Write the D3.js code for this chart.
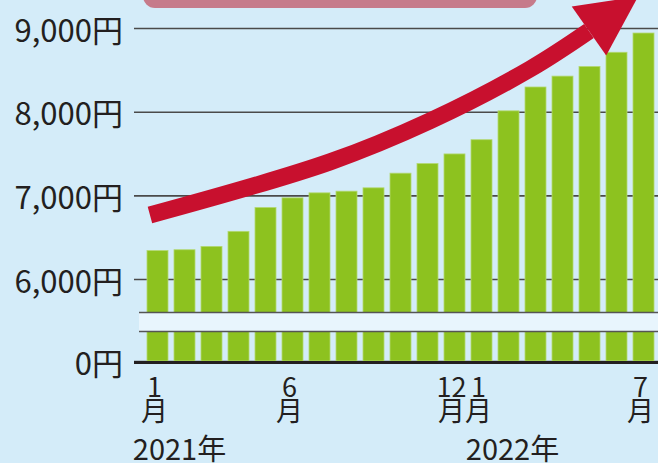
<!DOCTYPE html>
<html>
<head>
<meta charset="utf-8">
<script src="https://cdn.jsdelivr.net/npm/d3@7"></script>
<style>
  body { margin: 0; background: #d4ecf9; }
  svg { display: block; font-family: "Noto Sans CJK JP", "Noto Sans", sans-serif; }
</style>
</head>
<body>
<div id="chart"></div>
<script>
// 月別の金額（2021年1月〜2022年7月）
const months = ["2021-01","2021-02","2021-03","2021-04","2021-05","2021-06","2021-07","2021-08","2021-09","2021-10","2021-11","2021-12",
                "2022-01","2022-02","2022-03","2022-04","2022-05","2022-06","2022-07"];
const values = [6340, 6350, 6390, 6570, 6855, 6970, 7030, 7050, 7090, 7265, 7380, 7495, 7665, 8010, 8295, 8425, 8540, 8710, 8940];
const monthLabels = ["1","","","","","6","","","","","","12","1","","","","","","7"];
const yearLabels = ["2021年", "2022年"];
const yTicks = [0, 6000, 7000, 8000, 9000];
// 矢印の通り道 [月インデックス, 金額]
const arrowTrack = [[-0.28, 6765], [6.39, 7400], [10.09, 7890], [13.8, 8510], [15.98, 8964]];
const arrowTip = [17.8, 9376];

const W = 658, H = 463;
const breakVal = 5600;

const svg = d3.select("#chart")
  .append("svg")
    .attr("width", W)
    .attr("height", H);

svg.append("rect").attr("width", W).attr("height", H).attr("fill", "#d4ecf9");

const x = d3.scaleBand()
  .domain(months)
  .range([144, 657])
  .paddingInner(0.222)
  .paddingOuter(0.111);

// 省略あり（0〜5,600円を圧縮）
const y = d3.scaleLinear()
  .domain([0, breakVal, 9000])
  .range([361, 312.5, 28]);

const xc = i => x(months[0]) + x.bandwidth() / 2 + i * x.step();

// ピンクの見出し枠（上端）
svg.append("rect")
  .attr("x", 143).attr("y", -20)
  .attr("width", 394).attr("height", 28)
  .attr("rx", 12)
  .attr("fill", "#c67b8b");

// グリッド + 目盛
const yAxis = svg.append("g")
  .attr("transform", "translate(134,0)")
  .call(d3.axisLeft(y)
    .tickValues(yTicks)
    .tickSize(-(W - 134))
    .tickPadding(11)
    .tickFormat(d => d3.format(",")(d) + "円"));
yAxis.select(".domain").remove();
yAxis.selectAll(".tick line")
  .attr("stroke", "#4a4a4a")
  .attr("stroke-width", 1.6);
yAxis.selectAll(".tick text")
  .attr("fill", "#231f20")
  .attr("font-size", 31)
  .attr("font-family", "Noto Sans CJK JP")
  .attr("dy", "0.42em");

// 棒
svg.append("g").selectAll("rect")
  .data(values)
  .join("rect")
    .attr("x", (d, i) => x(months[i]))
    .attr("y", d => y(d))
    .attr("width", x.bandwidth())
    .attr("height", d => y(0) - y(d))
    .attr("fill", "#8dc21f")
    .attr("stroke", "#b3d872")
    .attr("stroke-width", 0.8);

// 省略帯
svg.append("rect")
  .attr("x", 139).attr("y", 312.5)
  .attr("width", W - 139).attr("height", 19)
  .attr("fill", "#e8f5fd");
[312.5, 331.5].forEach(v => {
  svg.append("line")
    .attr("x1", 139).attr("x2", W)
    .attr("y1", v).attr("y2", v)
    .attr("stroke", "#555").attr("stroke-width", 1.5);
});

// 0円の基線
svg.append("line")
  .attr("x1", 134).attr("x2", W)
  .attr("y1", y(0) + 1.5).attr("y2", y(0) + 1.5)
  .attr("stroke", "#231f20").attr("stroke-width", 3);

// X軸ラベル（数字と「月」を縦に並べる）
const xl = svg.append("g")
  .attr("fill", "#231f20")
  .attr("font-size", 27)
  .attr("text-anchor", "middle");
monthLabels.forEach((m, i) => {
  if (!m) return;
  const cx = x(months[i]) + x.bandwidth() / 2 - 3;
  const t = xl.append("text").attr("x", cx).attr("y", 397);
  t.append("tspan").attr("x", cx).text(m);
  t.append("tspan").attr("x", cx).attr("dy", 24).text("月");
});
xl.append("text").attr("x", xc(0) + 22).attr("y", 460).attr("font-size", 29).text(yearLabels[0]);
xl.append("text").attr("x", xc(12) + 31).attr("y", 460).attr("font-size", 29).text(yearLabels[1]);

// 赤い矢印
const pts = arrowTrack.map(([i, v]) => [xc(i), y(v)]);
svg.append("path")
  .attr("d", d3.line().curve(d3.curveCatmullRom)(pts))
  .attr("fill", "none")
  .attr("stroke", "#c8102e")
  .attr("stroke-width", 17);

const end = pts[pts.length - 1];
const tip = [xc(arrowTip[0]), y(arrowTip[1])];
const dx = tip[0] - end[0], dy = tip[1] - end[1];
const len = Math.hypot(dx, dy);
const nx = -dy / len, ny = dx / len;
const half = 30;
svg.append("path")
  .attr("d", `M${tip[0]},${tip[1]}L${end[0] + nx * half},${end[1] + ny * half}L${end[0] - nx * half},${end[1] - ny * half}Z`)
  .attr("fill", "#c8102e");
</script>
</body>
</html>
